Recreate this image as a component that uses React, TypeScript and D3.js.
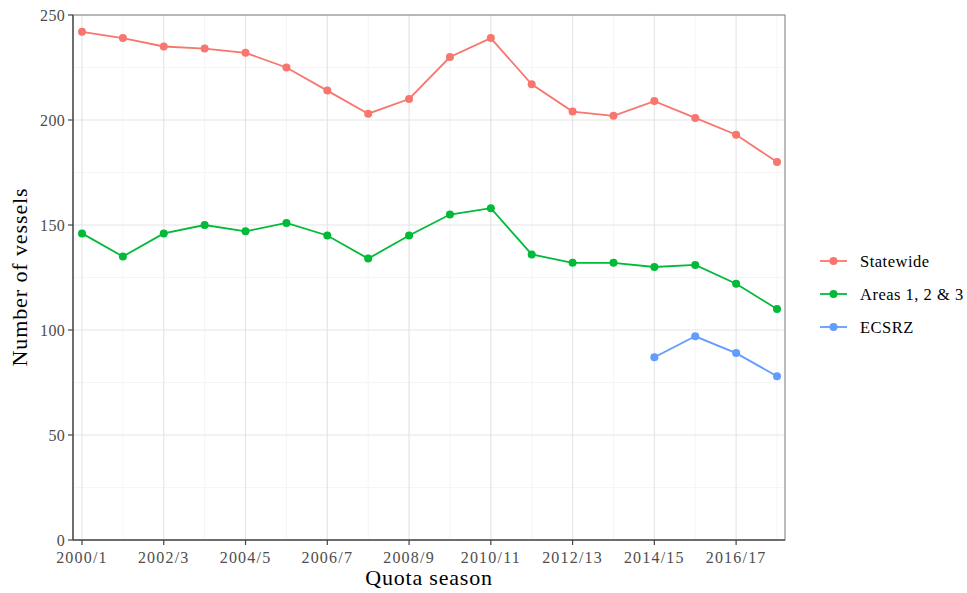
import React from "react";
import * as d3 from "d3";

const seasons = ["2000/1","2001/2","2002/3","2003/4","2004/5","2005/6","2006/7","2007/8","2008/9","2009/10","2010/11","2011/12","2012/13","2013/14","2014/15","2015/16","2016/17","2017/18"];
const statewide = [242,239,235,234,232,225,214,203,210,230,239,217,204,202,209,201,193,180];
const areas123 = [146,135,146,150,147,151,145,134,145,155,158,136,132,132,130,131,122,110];
const ecsrz: (number | null)[] = [null,null,null,null,null,null,null,null,null,null,null,null,null,null,87,97,89,78];
const seriesNames = ["Statewide","Areas 1, 2 & 3","ECSRZ"];
const seriesColors = ["#F8766D","#00BA38","#619CFF"];
const yTicks = [0,50,100,150,200,250];
const yMinor = [25,75,125,175,225];

export default function App() {
  const W = 967, H = 593;
  const left = 73, right = 785, top = 15, bottom = 540;
  const x = d3.scaleLinear().domain([0, 17]).range([82, 777]);
  const y = d3.scaleLinear().domain([0, 250]).range([bottom, top]);
  const font = "'Liberation Serif', 'DejaVu Serif', serif";
  const series = [statewide, areas123, ecsrz];
  const line = d3.line<number | null>()
    .defined(d => d != null)
    .x((_, i) => x(i))
    .y(d => y(d as number));
  const majorX = seasons.map((_, i) => i).filter(i => i % 2 === 0);
  const minorX = seasons.map((_, i) => i).filter(i => i % 2 === 1);
  return (
    <svg width={W} height={H} style={{ position: "absolute", left: 0, top: 0, background: "#fff" }}>
      <rect x={left} y={top} width={right - left} height={bottom - top} fill="#fff" />
      {yMinor.map(v => <line key={"ym" + v} x1={left} x2={right} y1={y(v)} y2={y(v)} stroke="#F2F2F2" strokeWidth={0.8} />)}
      {minorX.map(i => <line key={"xm" + i} x1={x(i)} x2={x(i)} y1={top} y2={bottom} stroke="#F2F2F2" strokeWidth={0.8} />)}
      {yTicks.map(v => <line key={"yg" + v} x1={left} x2={right} y1={y(v)} y2={y(v)} stroke="#E6E6E6" strokeWidth={1.2} />)}
      {majorX.map(i => <line key={"xg" + i} x1={x(i)} x2={x(i)} y1={top} y2={bottom} stroke="#E6E6E6" strokeWidth={1.2} />)}
      <rect x={left} y={top} width={right - left} height={bottom - top} fill="none" stroke="#999" strokeWidth={1.3} />
      <line x1={left} x2={left} y1={top} y2={bottom} stroke="#555" strokeWidth={1.5} />
      <line x1={left} x2={right} y1={bottom} y2={bottom} stroke="#555" strokeWidth={1.5} />
      {series.map((s, k) => (
        <g key={"s" + k}>
          <path d={line(s) || ""} fill="none" stroke={seriesColors[k]} strokeWidth={1.8} />
          {s.map((v, i) => v == null ? null : <circle key={i} cx={x(i)} cy={y(v)} r={4} fill={seriesColors[k]} />)}
        </g>
      ))}
      {yTicks.map(v => (
        <g key={"yt" + v}>
          <line x1={left - 5} x2={left} y1={y(v)} y2={y(v)} stroke="#444" strokeWidth={1.2} />
          <text x={left - 8} y={y(v)} dy="0.35em" textAnchor="end" fontFamily={font} fontSize={16} letterSpacing={0.3} fill="#4D4D4D">{v}</text>
        </g>
      ))}
      {majorX.map(i => (
        <g key={"xt" + i}>
          <line x1={x(i)} x2={x(i)} y1={bottom} y2={bottom + 5} stroke="#444" strokeWidth={1.2} />
          <text x={x(i)} y={bottom + 23} textAnchor="middle" fontFamily={font} fontSize={16} letterSpacing={1.2} fill="#4D4D4D">{seasons[i]}</text>
        </g>
      ))}
      <text x={429} y={585} textAnchor="middle" fontFamily={font} fontSize={22} letterSpacing={0.8} fill="#000">Quota season</text>
      <text transform={`translate(27,277) rotate(-90)`} textAnchor="middle" fontFamily={font} fontSize={22} letterSpacing={0.9} fill="#000">Number of vessels</text>
      {seriesNames.map((n, k) => {
        const ly = 261 + k * 33;
        return (
          <g key={"lg" + k}>
            <line x1={820} x2={847} y1={ly} y2={ly} stroke={seriesColors[k]} strokeWidth={1.8} />
            <circle cx={833.5} cy={ly} r={4} fill={seriesColors[k]} />
            <text x={860} y={ly} dy="0.35em" fontFamily={font} fontSize={16.5} letterSpacing={0.5} fill="#000">{n}</text>
          </g>
        );
      })}
    </svg>
  );
}
